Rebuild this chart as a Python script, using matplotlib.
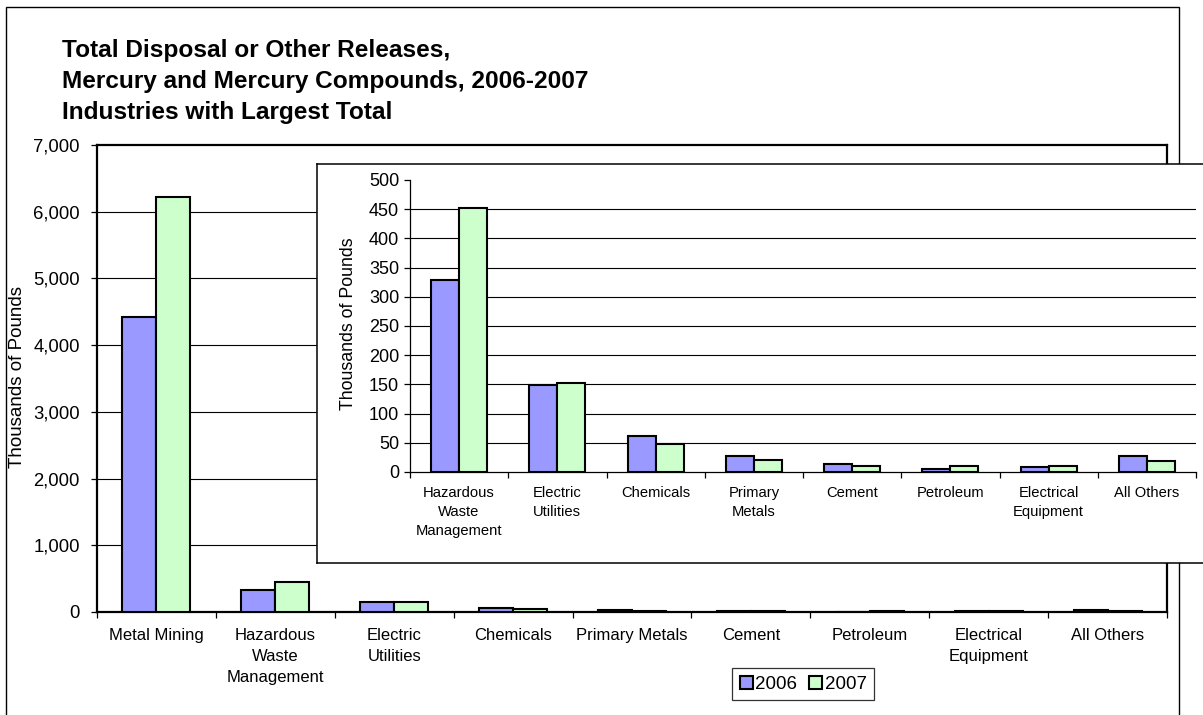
import matplotlib
matplotlib.use("Agg")
import matplotlib.pyplot as plt
from matplotlib.patches import Rectangle, Patch
import numpy as np

plt.rcParams['font.family'] = ['Liberation Sans', 'DejaVu Sans']

# ---- data (thousands of pounds) ----
title_lines = [
    "Total Disposal or Other Releases,",
    "Mercury and Mercury Compounds, 2006-2007",
    "Industries with Largest Total",
]
series_names = ["2006", "2007"]

main_categories = ["Metal Mining", "Hazardous\nWaste\nManagement", "Electric\nUtilities",
                   "Chemicals", "Primary Metals", "Cement", "Petroleum",
                   "Electrical\nEquipment", "All Others"]
main_2006 = [4425, 328, 149, 61, 27, 13, 5, 9, 27]
main_2007 = [6225, 452, 152, 48, 20, 11, 11, 10, 18]

inset_categories = ["Hazardous\nWaste\nManagement", "Electric\nUtilities", "Chemicals",
                    "Primary\nMetals", "Cement", "Petroleum", "Electrical\nEquipment",
                    "All Others"]
inset_2006 = [328, 149, 61, 27, 13, 5, 9, 27]
inset_2007 = [452, 152, 48, 20, 11, 11, 10, 18]

main_yticks = list(range(0, 7001, 1000))
inset_yticks = list(range(0, 501, 50))

color_2006 = "#9999FF"
color_2007 = "#CCFFCC"

W, H = 1203, 715
fig = plt.figure(figsize=(W / 100, H / 100), dpi=100)


def box(left, top, right, bottom):
    """Pixel box (origin top-left) -> figure fraction rect."""
    return [left / W, 1 - bottom / H, (right - left) / W, (bottom - top) / H]


# outer chart frame
fig.patches.append(Rectangle((6 / W, -0.05), (1179 - 6) / W, 1 - 7 / H + 0.05,
                             transform=fig.transFigure, fill=False,
                             edgecolor="black", lw=1.0, zorder=0.5))

# title
for i, line in enumerate(title_lines):
    fig.text(62 / W, 1 - (57 + 31 * i) / H, line, fontsize=17.6,
             fontweight="bold", ha="left", va="baseline")


def draw_bars(ax, cats, v1, v2, width):
    x = np.arange(len(cats))
    ax.bar(x - width / 2, v1, width, color=color_2006, edgecolor="black",
           linewidth=1.5, zorder=3, label=series_names[0])
    ax.bar(x + width / 2, v2, width, color=color_2007, edgecolor="black",
           linewidth=1.5, zorder=3, label=series_names[1])
    ax.set_xlim(-0.5, len(cats) - 0.5)
    ax.set_xticks(x)
    ax.set_xticks(np.arange(len(cats) + 1) - 0.5, minor=True)
    ax.tick_params(axis="x", which="major", length=0)
    ax.tick_params(axis="x", which="minor", length=4.3, width=0.9,
                   direction="out", color="black")
    ax.tick_params(axis="y", length=4.3, width=0.9, direction="out")


# ---- main chart ----
ax = fig.add_axes(box(97, 145, 1167, 612), zorder=1)
ax.set_facecolor("white")
draw_bars(ax, main_categories, main_2006, main_2007, 0.286)
ax.set_ylim(0, 7000)
ax.set_yticks(main_yticks)
ax.set_yticklabels([f"{v:,}" for v in main_yticks], fontsize=13.3)
ax.tick_params(axis="y", pad=8)
ax.set_xticklabels(main_categories, fontsize=12, linespacing=1.5)
ax.tick_params(axis="x", which="major", pad=11.5)
for v in main_yticks[1:-1]:
    ax.axhline(v, color="black", lw=0.8, zorder=1)
for s in ax.spines.values():
    s.set_linewidth(1.6)
    s.set_color("black")
fig.text(18 / W, 1 - 377 / H, "Thousands of Pounds", rotation=90,
         fontsize=13.5, ha="center", va="center")

# ---- inset frame ----
frame = fig.add_axes(box(317, 164, 1230, 563), zorder=2)
frame.set_facecolor("white")
frame.set_xticks([])
frame.set_yticks([])
for s in frame.spines.values():
    s.set_linewidth(1.1)
    s.set_color("black")

# ---- inset chart ----
ins = fig.add_axes(box(410, 180, 1196, 472), zorder=3)
ins.patch.set_alpha(0)
draw_bars(ins, inset_categories, inset_2006, inset_2007, 0.285)
ins.set_ylim(0, 500)
ins.set_yticks(inset_yticks)
ins.set_yticklabels([str(v) for v in inset_yticks], fontsize=13)
ins.tick_params(axis="y", pad=3.5)
ins.set_xticklabels(inset_categories, fontsize=10.6, linespacing=1.45)
ins.tick_params(axis="x", which="major", pad=10)
for v in inset_yticks[1:-1]:
    ins.axhline(v, color="black", lw=0.8, zorder=1)
ins.spines["top"].set_visible(False)
ins.spines["right"].set_visible(False)
ins.spines["left"].set_linewidth(0.9)
ins.spines["bottom"].set_linewidth(0.9)
fig.text(348 / W, 1 - 324 / H, "Thousands of Pounds", rotation=90,
         fontsize=12.8, ha="center", va="center")

# ---- legend ----
handles = [Patch(facecolor=color_2006, edgecolor="black", linewidth=1.5),
           Patch(facecolor=color_2007, edgecolor="black", linewidth=1.5)]
leg = fig.legend(handles, series_names, loc="upper left",
                 bbox_to_anchor=(732 / W, 1 - 668 / H), ncol=2, fontsize=13.5,
                 frameon=True, fancybox=False, edgecolor="black",
                 handlelength=0.7, handleheight=0.7, handletextpad=0.15,
                 columnspacing=0.6, borderpad=0.4, borderaxespad=0)
leg.get_frame().set_linewidth(0.9)

fig.savefig("out.png", dpi=100)
